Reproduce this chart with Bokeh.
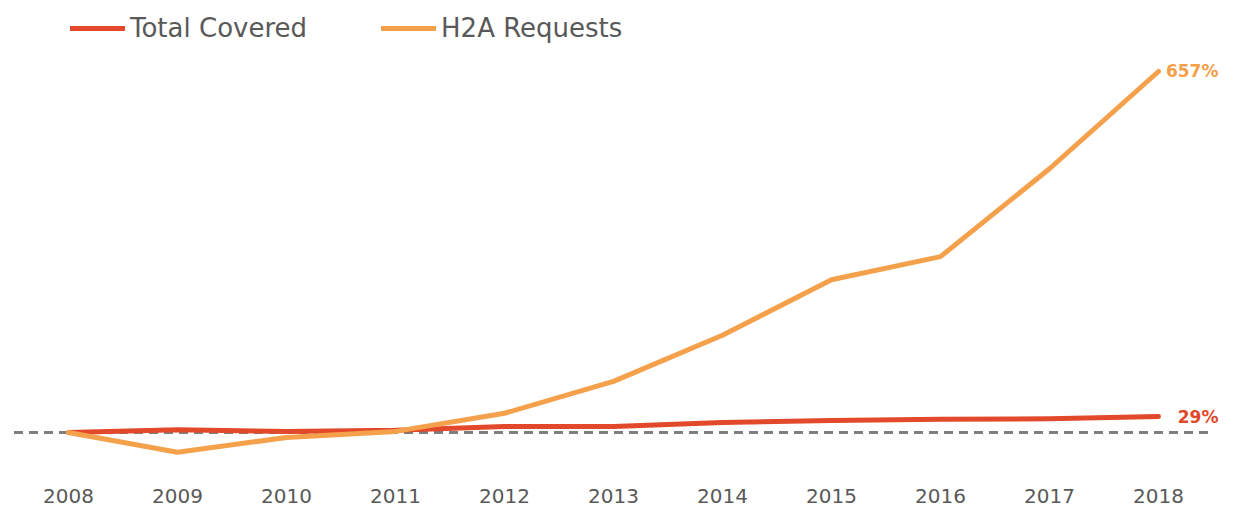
from bokeh.plotting import figure
from bokeh.models import ColumnDataSource, Legend, LegendItem, Range1d, FixedTicker, Segment
from bokeh.embed import file_html
from bokeh.resources import INLINE
from bokeh.core.properties import value

years = [2008, 2009, 2010, 2011, 2012, 2013, 2014, 2015, 2016, 2017, 2018]
total_covered = [0, 5, 2, 4, 11, 11, 18, 22, 24, 25, 29]
h2a_requests = [0, -36, -9, 2, 35, 93, 177, 278, 320, 480, 657]
series_names = ["Total Covered", "H2A Requests"]

RED = "#E2482A"
ORANGE = "#F5A04B"
GREY_TXT = "#595959"
FONT = "DejaVu Sans"
HEIGHT = 509
BOTTOM = 28
FRAME_H = HEIGHT - BOTTOM

p = figure(width=1219, height=HEIGHT, output_backend="svg", toolbar_location=None,
           x_range=Range1d(2007.376, 2018.56), y_range=Range1d(-89.2, 786.2),
           min_border_left=0, min_border_right=0, min_border_top=0, min_border_bottom=BOTTOM)
p.outline_line_color = None
p.background_fill_color = "white"
p.border_fill_color = "white"
p.xgrid.visible = False
p.ygrid.visible = False
p.yaxis.visible = False

ax = p.xaxis[0]
ax.ticker = FixedTicker(ticks=years)
ax.axis_line_color = None
ax.major_tick_line_color = None
ax.minor_tick_line_color = None
ax.major_label_text_font = FONT
ax.major_label_text_font_size = "20px"
ax.major_label_text_color = GREY_TXT
ax.major_label_standoff = 1

# baseline dashed
base = ColumnDataSource(dict(x0=[years[0] - 0.5], x1=[years[-1] + 0.48], y0=[0], y1=[0]))
p.add_glyph(base, Segment(x0="x0", y0="y0", x1="x1", y1="y1", line_color="#7F7F7F",
                          line_width=3, line_dash="9 6"))

src = ColumnDataSource(dict(x=years, tc=total_covered, h2a=h2a_requests))
r1 = p.line("x", "tc", source=src, line_color=RED, line_width=5, line_join="round", line_cap="round")
r2 = p.line("x", "h2a", source=src, line_color=ORANGE, line_width=5, line_join="round", line_cap="round")

end_src = ColumnDataSource(dict(
    x=[years[-1], years[-1]],
    y=[total_covered[-1], h2a_requests[-1]],
    t=[f"{total_covered[-1]}%", f"{h2a_requests[-1]}%"],
    c=[RED, ORANGE]))
p.text(x="x", y="y", text="t", source=end_src, text_color="c", text_font=value(FONT),
       text_font_style="bold", text_font_size="17px", text_align="right",
       text_baseline="middle", x_offset=60)

legend = Legend(items=[LegendItem(label=series_names[0], renderers=[r1]),
                       LegendItem(label=series_names[1], renderers=[r2])],
                orientation="horizontal", location=(70, FRAME_H - 12 - 32),
                padding=0, margin=0, spacing=74, glyph_width=55, glyph_height=32,
                label_height=32, label_standoff=5, border_line_color=None,
                background_fill_alpha=0,
                label_text_font=FONT, label_text_font_size="26px",
                label_text_color=GREY_TXT)
p.add_layout(legend, "center")

open("out.html", "w").write(file_html(p, INLINE))
